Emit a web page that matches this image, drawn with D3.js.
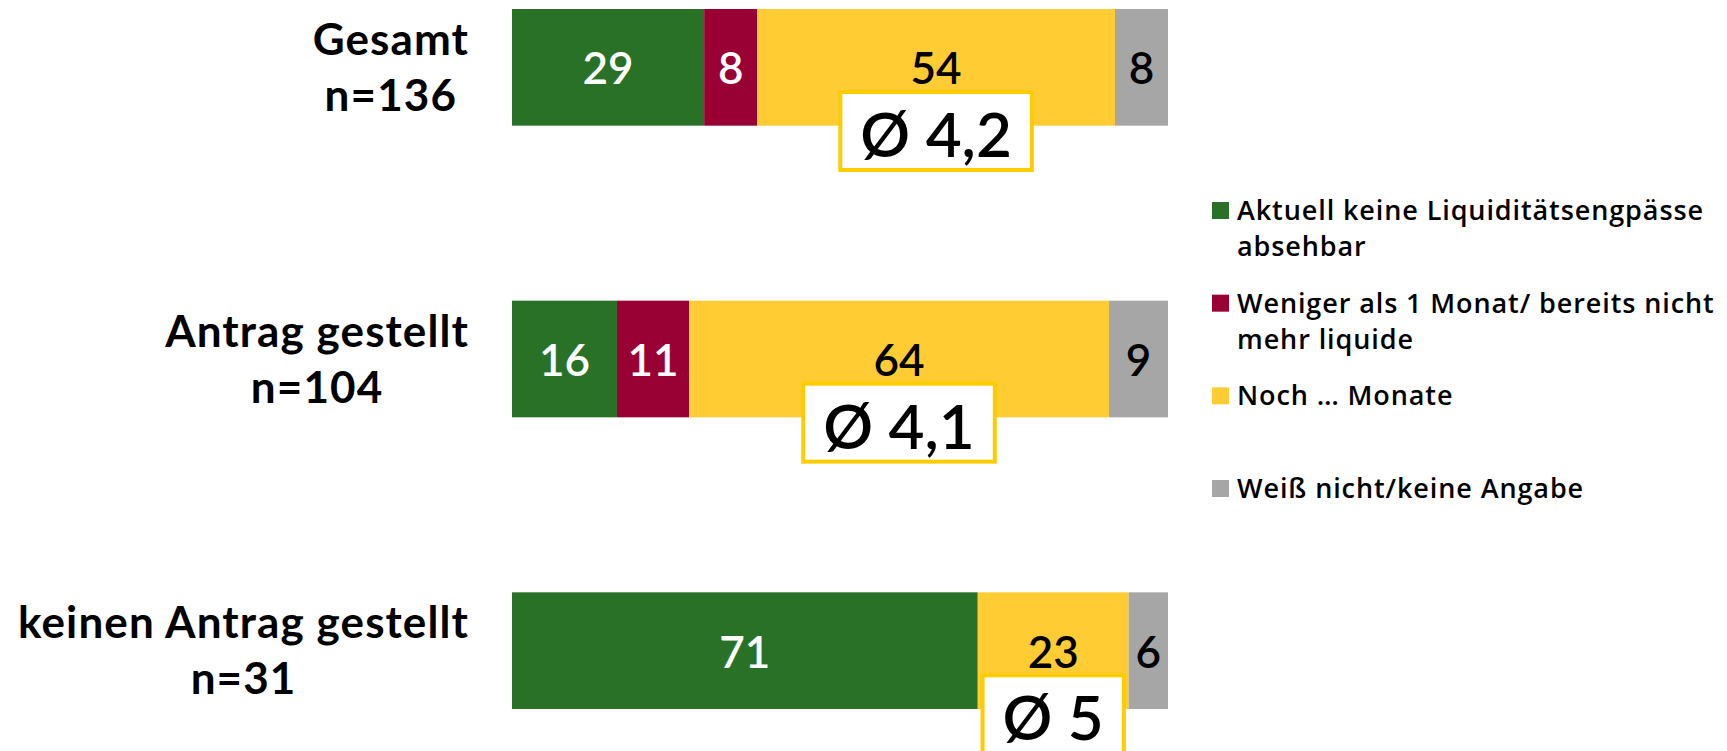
<!DOCTYPE html>
<html>
<head>
<meta charset="utf-8">
<title>Liquiditätsengpässe</title>
<script src="https://cdnjs.cloudflare.com/ajax/libs/d3/7.8.5/d3.min.js"></script>
<style>
  body { margin: 0; background: #fff; }
  svg text { font-family: Lato, "Open Sans", sans-serif; }
</style>
</head>
<body>
<script>

// Data
var categories = ["Gesamt", "Antrag gestellt", "keinen Antrag gestellt"]
var sampleSizes = ["n=136", "n=104", "n=31"]
var seriesKeys = ["keine", "weniger", "noch", "weissnicht"]
var seriesNames = [
    ["Aktuell keine Liquiditätsengpässe", "absehbar"],
    ["Weniger als 1 Monat/ bereits nicht", "mehr liquide"],
    ["Noch … Monate"],
    ["Weiß nicht/keine Angabe"]
]
var keineValues = [29, 16, 71]
var wenigerValues = [8, 11, 0]
var nochValues = [54, 64, 23]
var weissnichtValues = [8, 9, 6]
var averages = [4.2, 4.1, 5]

var colors = ["#2a7128", "#990033", "#ffcc33", "#a6a6a6"]
var labelColors = ["#ffffff", "#ffffff", "#000000", "#000000"]

// table for d3.stack
var rows = categories.map(function(c, i) {
    return {
        category: c,
        keine: keineValues[i],
        weniger: wenigerValues[i],
        noch: nochValues[i],
        weissnicht: weissnichtValues[i]
    }
})

var W = 1727, H = 751

var svg = d3.select("body").append("svg")
    .attr("width", W)
    .attr("height", H)

// 100% stacked bars
var stack = d3.stack().keys(seriesKeys).offset(d3.stackOffsetExpand)
var layers = stack(rows)

var x = d3.scaleLinear()
    .domain([0, 1])
    .range([512, 1168])

var y = d3.scaleBand()
    .domain(categories)
    .range([9, 709])
    .paddingInner(0.6)
    .paddingOuter(0)

var layerG = svg.selectAll("g.layer")
    .data(layers)
    .enter()
    .append("g")
    .attr("class", "layer")
    .style("fill", function(d, i) { return colors[i] })

layerG.selectAll("rect")
    .data(function(d) { return d })
    .enter()
    .append("rect")
    .attr("x", function(d) { return x(d[0]) })
    .attr("y", function(d) { return y(d.data.category) })
    .attr("width", function(d) { return x(d[1]) - x(d[0]) })
    .attr("height", y.bandwidth())

// value labels
layers.forEach(function(layer, li) {
    svg.append("g")
        .selectAll("text")
        .data(layer.filter(function(d) { return d.data[layer.key] > 0 }))
        .enter()
        .append("text")
        .attr("x", function(d) { return (x(d[0]) + x(d[1])) / 2 })
        .attr("y", function(d) { return y(d.data.category) + y.bandwidth() / 2 + 17 })
        .attr("text-anchor", "middle")
        .style("font-size", "44px")
        .style("font-weight", 600)
        .style("fill", labelColors[li])
        .text(function(d) { return d.data[layer.key] })
})

// category labels, two centred lines, block right-aligned
categories.forEach(function(c, i) {
    var cy = y(c) + y.bandwidth() / 2
    var g = svg.append("g")
    var t1 = g.append("text")
        .attr("y", cy - 12.5)
        .text(c)
    var t2 = g.append("text")
        .attr("y", cy + 43.5)
        .text(sampleSizes[i])
    g.selectAll("text")
        .attr("text-anchor", "middle")
        .style("font-size", "44px")
        .style("font-weight", 700)
        .style("letter-spacing", "1.1px")
        .style("fill", "#000")
    var maxW = Math.max(t1.node().getComputedTextLength(), t2.node().getComputedTextLength())
    g.selectAll("text").attr("x", 469 - maxW / 2)
})

// average boxes on the yellow segment
var nochLayer = layers[2]
nochLayer.forEach(function(d, i) {
    var cx = (x(d[0]) + x(d[1])) / 2
    var top = y(d.data.category) + 81
    var g = svg.append("g")
    var rect = g.append("rect")
    var t = g.append("text")
        .attr("x", cx)
        .attr("y", top + 67)
        .attr("text-anchor", "middle")
        .style("font-size", "62px")
        .style("font-weight", 600)
        .style("fill", "#000")
        .text("Ø " + String(averages[i]).replace(".", ","))
    var bw = t.node().getComputedTextLength() + 44
    rect.attr("x", cx - bw / 2 + 2)
        .attr("y", top + 2)
        .attr("width", bw - 4)
        .attr("height", 78)
        .style("fill", "#fff")
        .style("stroke", "#ffcc00")
        .style("stroke-width", 4)
})

// legend
var legendY = d3.scaleLinear().domain([0, 3]).range([220, 498])

var legend = svg.selectAll("g.legend")
    .data(seriesNames)
    .enter()
    .append("g")
    .attr("class", "legend")
    .attr("transform", function(d, i) { return "translate(1212," + legendY(i) + ")" })

legend.append("rect")
    .attr("x", 0)
    .attr("y", -18)
    .attr("width", 17)
    .attr("height", 17)
    .style("fill", function(d, i) { return colors[i] })

legend.append("text")
    .attr("x", 25)
    .style("font-family", "'Open Sans', sans-serif")
    .style("font-size", "27px")
    .style("font-weight", 600)
    .style("letter-spacing", "0.9px")
    .style("fill", "#000")
    .selectAll("tspan")
    .data(function(d) { return d })
    .enter()
    .append("tspan")
    .attr("x", 25)
    .attr("dy", function(d, i) { return i === 0 ? 0 : 36 })
    .text(function(d) { return d })

</script>
</body>
</html>
